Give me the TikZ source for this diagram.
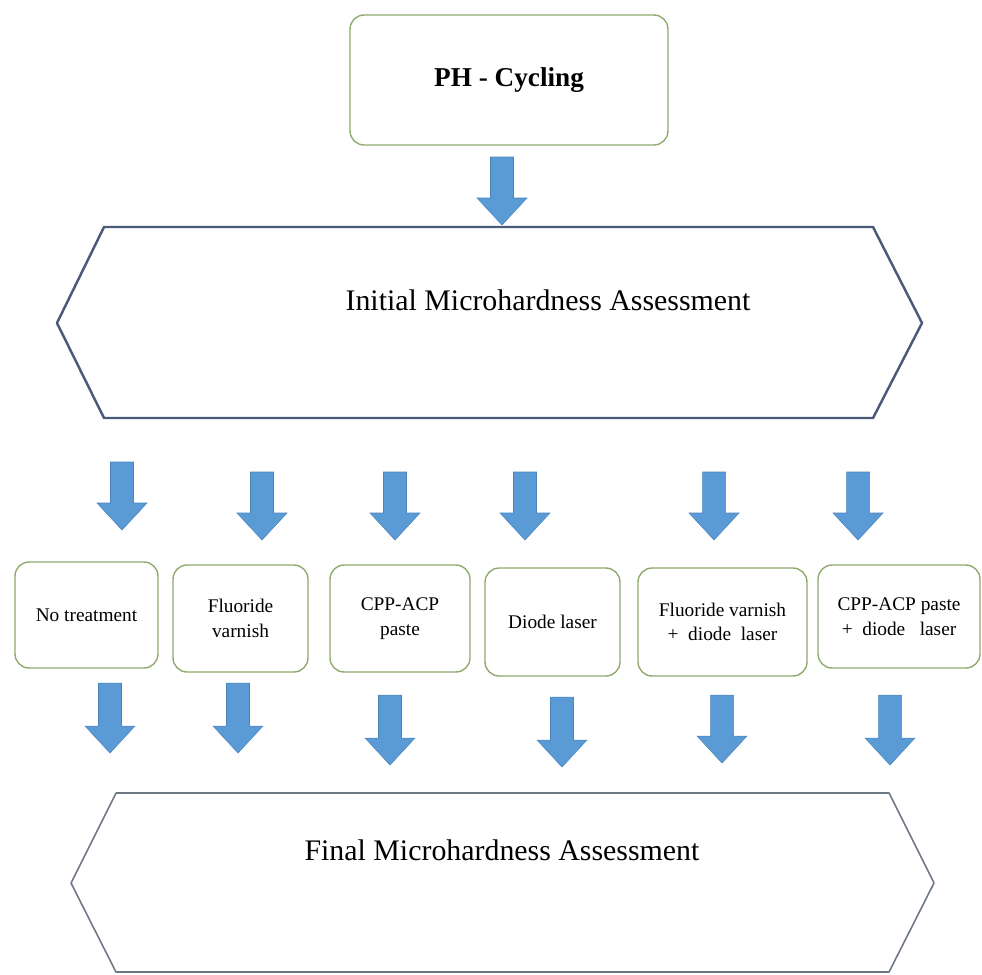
\documentclass[tikz,border=0pt]{standalone}
\usepackage{fontspec}
\setmainfont{Liberation Serif}
\usetikzlibrary{positioning, calc}
\definecolor{ArrowBlue}{HTML}{5B9BD5}
\definecolor{ArrowEdge}{HTML}{4A84BC}
\definecolor{BoxGreen}{HTML}{8FAA6C}
\definecolor{HexSlate}{HTML}{4A5A78}
\definecolor{HexGrey}{HTML}{6E7885}

\begin{document}
\begin{tikzpicture}[x=0.02cm, y=-0.02cm,
  every node/.style={font=\fontsize{11}{14}\selectfont},
  treat/.style={draw=BoxGreen, line width=0.8pt, rounded corners=8pt,
    align=center, inner sep=0pt},
  blockarr/.style={fill=ArrowBlue, draw=ArrowEdge, line width=0.3pt},
  hexa/.style={draw=HexSlate, line width=1.4pt, line join=round},
  hexb/.style={draw=HexGrey, line width=0.9pt, line join=round},
  title/.style={font=\fontsize{17}{20}\selectfont}
]
  \useasboundingbox (0,0) rectangle (982,974);

  % pH cycling
  \node[treat, minimum width=6.36cm, minimum height=2.6cm,
    font=\fontsize{15.5}{18}\selectfont\bfseries] (ph) at (509,80) {PH - Cycling};

  % Initial assessment
  \draw[hexa] (104,227) -- (873,227) -- (922,323) -- (873,418) -- (104,418) -- (57,323) -- cycle;
  \node[title] (init) at (548,300) {Initial Microhardness Assessment};

  % Treatment groups
  \foreach \n/\cx/\cy/\w/\h/\txt in {
      1/86.5/615/2.86/2.12/{No treatment},
      2/240.5/618.5/2.70/2.14/{Fluoride\\varnish},
      3/400/618.5/2.80/2.14/{CPP-ACP\\paste},
      4/552.5/622/2.70/2.16/{Diode laser},
      5/722.5/622/3.38/2.16/{Fluoride varnish\\+ \ diode\ \ laser},
      6/899/616.5/3.24/2.06/{CPP-ACP paste\\+ \ diode\ \ \ laser}}
    \node[treat, minimum width=\w cm, minimum height=\h cm] (grp\n) at (\cx,\cy) {\txt};

  % Final assessment
  \draw[hexb] (116,793) -- (889,793) -- (934,883) -- (889,972) -- (116,972) -- (71,883) -- cycle;
  \node[title] (final) at (502,850) {Final Microhardness Assessment};

  % Block arrows (centre x / top / tip)
  \foreach \x/\t/\p in {502/157/225,
      122/462/530, 262/472/540, 395/472/540, 525/472/540, 714/472/540, 858/472/540,
      110/683/753, 238/683/753, 390/695/765, 562/697/767, 722/695/763, 890/695/765}
    \draw[blockarr] (\x-11.5,\t) -- (\x+11.5,\t) -- (\x+11.5,\p-27) -- (\x+25,\p-27)
      -- (\x,\p) -- (\x-25,\p-27) -- (\x-11.5,\p-27) -- cycle;
\end{tikzpicture}
\end{document}
